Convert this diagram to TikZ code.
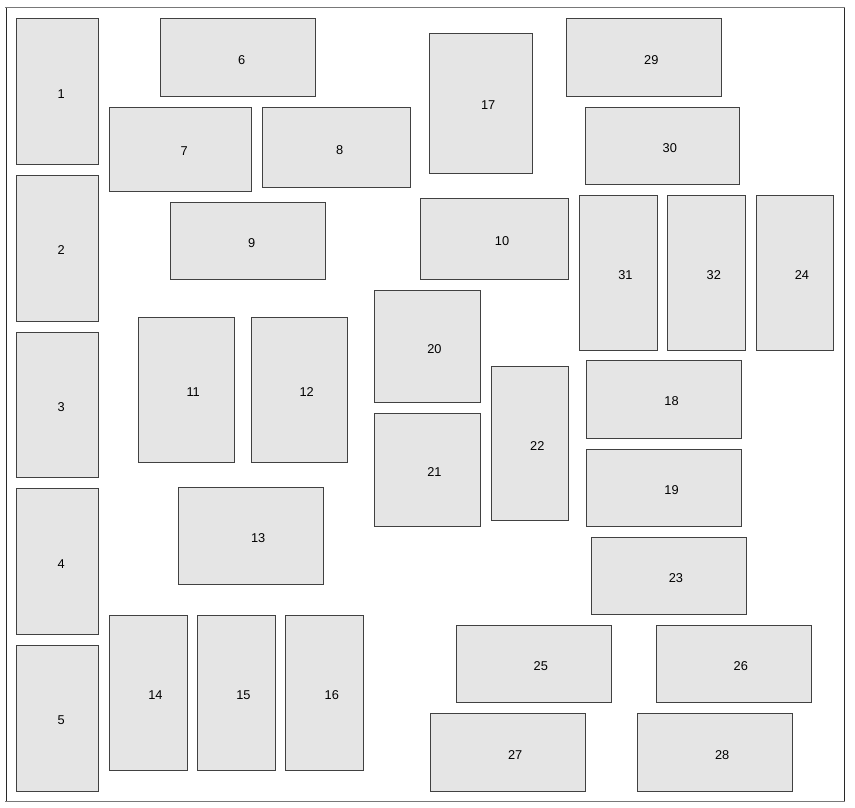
\documentclass[tikz,border=0pt]{standalone}
\usepackage{fontspec}
\setmainfont{Liberation Sans}
\definecolor{boxfill}{RGB}{229,229,229}
\definecolor{boxline}{RGB}{65,65,65}
\definecolor{framehzline}{RGB}{120,120,120}
\definecolor{framevtline}{RGB}{40,40,40}
\newcommand\fbx[5]{%
  \node[fusebox, minimum width={(#3-#1)*1pt}, minimum height={(#4-#2)*1pt}] (f#5) at ({(#1+#3)/2},{(#2+#4)/2}) {};
  \node[num] (t#5) at ([yshift=-2.3pt]f#5.center) {#5};}
\begin{document}
\begin{tikzpicture}[x=1pt,y=-1pt,
  fusebox/.style={draw=boxline, fill=boxfill, line width=1pt, inner sep=0pt, outer sep=0pt},
  num/.style={anchor=west, inner sep=0pt, font=\fontsize{12.8}{14}\selectfont, text=black},
  framehz/.style={draw=framehzline, line width=1.4pt},
  framevt/.style={draw=framevtline, line width=1pt}]
\useasboundingbox (0,0) rectangle (855,807);
\node[minimum width=838pt, minimum height=794pt, inner sep=0pt, outer sep=0pt] (frame) at (425,404.7) {};
\draw[framevt] (frame.north west) -- (frame.south west);
\draw[framevt] (frame.north east) -- (frame.south east);
\draw[framehz, line cap=rect] (frame.north west) -- (frame.north east);
\draw[framehz, line cap=rect] (frame.south west) -- (frame.south east);
\fbx{16.3}{18.7}{98.7}{164.3}{1}
\fbx{16.3}{175.3}{98.7}{321}{2}
\fbx{16.3}{332}{98.7}{477.7}{3}
\fbx{16.3}{488.7}{98.7}{634.3}{4}
\fbx{16.3}{645.3}{98.7}{791}{5}
\fbx{160.3}{18.7}{315.3}{96.3}{6}
\fbx{109.3}{107}{251.3}{191.3}{7}
\fbx{262}{107}{410}{187.7}{8}
\fbx{170.3}{202}{325.3}{279.7}{9}
\fbx{420.7}{198.7}{568.7}{279.7}{10}
\fbx{138.3}{317.7}{234.3}{462.7}{11}
\fbx{251.3}{317.7}{347.3}{462.7}{12}
\fbx{178.3}{487.7}{323.3}{584}{13}
\fbx{109.3}{615.3}{187}{770.3}{14}
\fbx{197.3}{615.3}{275}{770.3}{15}
\fbx{285.7}{615.3}{363.3}{770.3}{16}
\fbx{429.3}{33.3}{532.3}{173}{17}
\fbx{586.7}{360.3}{741.7}{438}{18}
\fbx{586.7}{449}{741.7}{526.3}{19}
\fbx{374}{290.3}{480.3}{402.7}{20}
\fbx{374}{413.7}{480.3}{526.3}{21}
\fbx{491.3}{366.3}{568.7}{520.7}{22}
\fbx{591.3}{537}{746}{614.3}{23}
\fbx{756}{195.3}{833.3}{350}{24}
\fbx{456}{625.3}{611}{702.7}{25}
\fbx{656}{625.3}{811}{702.7}{26}
\fbx{430.3}{713.7}{585.3}{791}{27}
\fbx{637.3}{713.7}{792.3}{791}{28}
\fbx{566.7}{18.7}{721.3}{96.3}{29}
\fbx{585.3}{107}{739.7}{184.3}{30}
\fbx{579.3}{195.3}{657}{350}{31}
\fbx{667.7}{195.3}{745.3}{350}{32}
\end{tikzpicture}
\end{document}
